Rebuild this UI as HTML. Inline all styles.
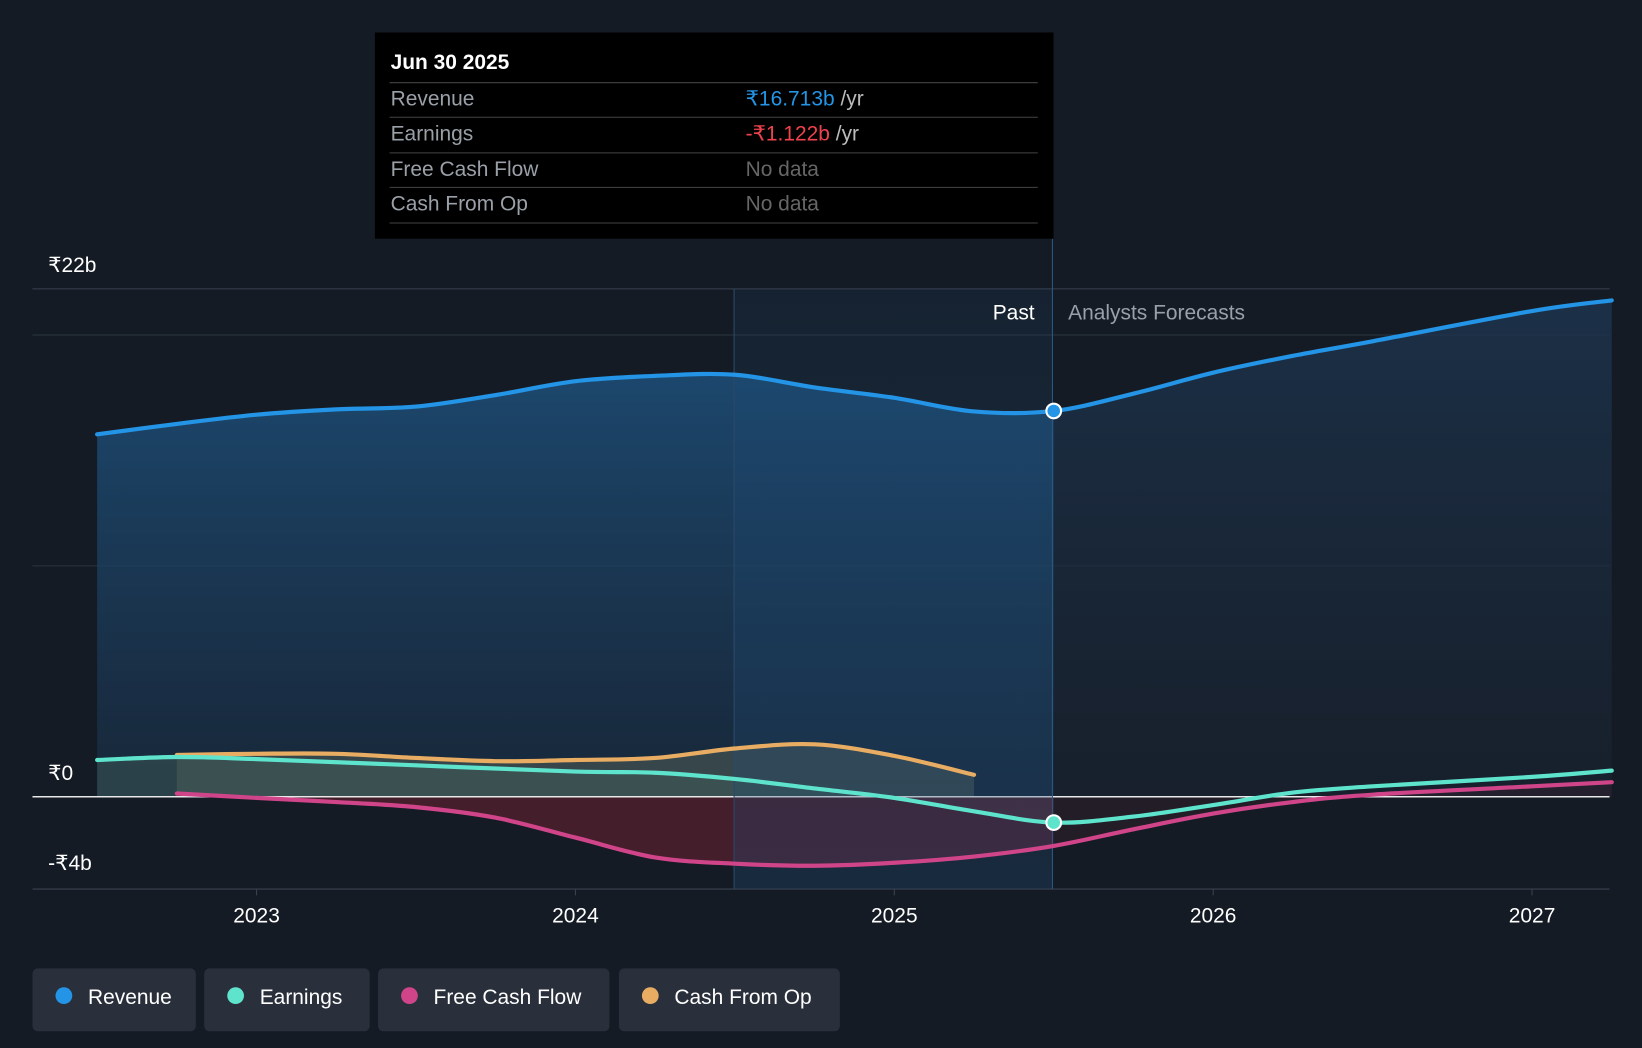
<!DOCTYPE html>
<html><head><meta charset="utf-8"><style>
html,body{margin:0;padding:0;background:#151b24;}
svg{display:block;font-family:"Liberation Sans","Noto Sans CJK SC",sans-serif;}
</style></head><body>
<svg id="chart" width="1642" height="1048" viewBox="0 0 1568 1001" preserveAspectRatio="none" xmlns="http://www.w3.org/2000/svg">
<defs>
<linearGradient id="revPast" x1="0" y1="0" x2="0" y2="1"><stop offset="0" stop-color="#1d4f7a" stop-opacity="0.85"/><stop offset="1" stop-color="#1a3048" stop-opacity="0.6"/></linearGradient>
<linearGradient id="revFut" x1="0" y1="0" x2="0" y2="1"><stop offset="0" stop-color="#1d3550" stop-opacity="0.8"/><stop offset="1" stop-color="#192534" stop-opacity="0.5"/></linearGradient>
<linearGradient id="hl" x1="0" y1="0" x2="0" y2="1"><stop offset="0" stop-color="#1e4c78" stop-opacity="0.25"/><stop offset="1" stop-color="#1e4c78" stop-opacity="0.5"/></linearGradient>
</defs>
<rect width="1568" height="1001" fill="#151b24"/>
<g id="grid"></g>
<g id="areas"></g>
<rect x="701" y="276" width="304" height="573" fill="url(#hl)" opacity="0.6"/>
<line x1="701" y1="276" x2="701" y2="849" stroke="#2a4a6a" stroke-width="1"/>
<line x1="1005" y1="228" x2="1005" y2="849" stroke="#2b5a85" stroke-width="1"/>
<g id="lines"></g>
<text x="988" y="305" fill="#fff" font-size="20" text-anchor="end">Past</text>
<text x="1020" y="305" fill="#9aa0a8" font-size="20">Analysts Forecasts</text>
<g>
<rect x="358" y="31" width="648" height="197" fill="#000"/>
<text x="373" y="66" fill="#fff" font-size="20" font-weight="bold">Jun 30 2025</text>
<line x1="372" y1="79" x2="991" y2="79" stroke="#444"/>
<text x="373" y="101" fill="#9aa0a8" font-size="20">Revenue</text>
<text x="712" y="101" font-size="20" fill="#2394e6">₹16.713b <tspan fill="#bbb">/yr</tspan></text>
<line x1="372" y1="112" x2="991" y2="112" stroke="#444"/>
<text x="373" y="134" fill="#9aa0a8" font-size="20">Earnings</text>
<text x="712" y="134" font-size="20" fill="#f0424c">-₹1.122b <tspan fill="#bbb">/yr</tspan></text>
<line x1="372" y1="146" x2="991" y2="146" stroke="#444"/>
<text x="373" y="168" fill="#9aa0a8" font-size="20">Free Cash Flow</text>
<text x="712" y="168" fill="#666" font-size="20">No data</text>
<line x1="372" y1="179" x2="991" y2="179" stroke="#444"/>
<text x="373" y="201" fill="#9aa0a8" font-size="20">Cash From Op</text>
<text x="712" y="201" fill="#666" font-size="20">No data</text>
<line x1="372" y1="213" x2="991" y2="213" stroke="#444"/>
</g>
<g id="axes"></g>
<g id="legend"></g>
</svg>
<script>
const years=[2022.5,2022.75,2023,2023.25,2023.5,2023.75,2024,2024.25,2024.5,2024.75,2025,2025.25,2025.5,2025.75,2026,2026.25,2026.5,2027,2027.25];
const revenue=[15.7,16.15,16.55,16.78,16.9,17.4,18.0,18.23,18.28,17.73,17.28,16.69,16.71,17.46,18.37,19.1,19.73,21.04,21.5];
const earnYears=[2022.5,2022.75,2023,2023.5,2024,2024.25,2024.5,2024.75,2025,2025.25,2025.5,2025.75,2026,2026.25,2026.5,2027,2027.25];
const earnings=[1.59,1.72,1.63,1.36,1.09,1.04,0.77,0.36,-0.05,-0.63,-1.12,-0.86,-0.36,0.18,0.45,0.86,1.13];
const fcfYears=[2022.75,2023,2023.25,2023.5,2023.75,2024,2024.25,2024.5,2024.75,2025,2025.25,2025.5,2025.75,2026,2026.25,2026.5,2027,2027.25];
const fcf=[0.14,-0.05,-0.23,-0.45,-0.91,-1.77,-2.63,-2.9,-2.99,-2.86,-2.59,-2.13,-1.41,-0.73,-0.23,0.09,0.45,0.63];
const cfoYears=[2022.75,2023,2023.25,2023.5,2023.75,2024,2024.25,2024.5,2024.75,2025,2025.25];
const cfo=[1.81,1.86,1.86,1.68,1.54,1.59,1.68,2.09,2.27,1.77,0.95];
const yTicks=[22,0,-4];
const yLabels=["₹22b","₹0","-₹4b"];
const xTicks=[2023,2024,2025,2026,2027];
const NS="http://www.w3.org/2000/svg";
const X=v=>245+(v-2023)*304.5;
const Y=v=>761-v*22.05;
function path(xs,ys){
  const p=xs.map((x,i)=>[X(x),Y(ys[i])]);
  let d="M"+p[0][0]+","+p[0][1];
  for(let i=0;i<p.length-1;i++){
    const p0=p[i-1]||p[i],p1=p[i],p2=p[i+1],p3=p[i+2]||p2;
    const c1=[p1[0]+(p2[0]-p0[0])/6,p1[1]+(p2[1]-p0[1])/6];
    const c2=[p2[0]-(p3[0]-p1[0])/6,p2[1]-(p3[1]-p1[1])/6];
    d+=` C${c1[0]},${c1[1]} ${c2[0]},${c2[1]} ${p2[0]},${p2[1]}`;
  }
  return d;
}
function el(tag,attrs,parent){const e=document.createElementNS(NS,tag);for(const k in attrs)e.setAttribute(k,attrs[k]);document.getElementById(parent).appendChild(e);return e;}
// grid
[22,20,10].forEach(v=>{const g=el('line',{x1:31,x2:1537,y1:Y(v),y2:Y(v),stroke:v==22?'#3a4250':'#2c3440','stroke-width':1},'grid');

});
const bl=el('line',{x1:31,x2:1537,y1:Y(-4),y2:Y(-4),stroke:'#3a4250'},'grid');


// areas
function area(xs,ys,fill,name,op){
  const d=path(xs,ys)+` L${X(xs[xs.length-1])},${Y(0)} L${X(xs[0])},${Y(0)} Z`;
  const a=el('path',{d:d,fill:fill,opacity:op},'areas');
  
  
}
const pi=years.indexOf(2025.5);
area(years.slice(pi),revenue.slice(pi),'url(#revFut)','revenue-area-forecast',1);
area(years.slice(0,pi+1),revenue.slice(0,pi+1),'url(#revPast)','revenue-area-past',1);
area(cfoYears,cfo,'#4b5a55','cfo-area',0.6);
area(earnYears.slice(0,11),earnings.slice(0,11),'#3d5a58','earnings-area',0.5);
area(fcfYears.slice(0,12),fcf.slice(0,12),'#5a2030','fcf-area',0.7);
area(fcfYears.slice(11),fcf.slice(11),'#3a2030','fcf-area-forecast',0.4);
const zl=el('line',{x1:31,x2:1537,y1:Y(0),y2:Y(0),stroke:'#e8e8e8','stroke-width':1.5},'areas');


// lines
function line(xs,ys,color,name){const l=el('path',{d:path(xs,ys),fill:'none',stroke:color,'stroke-width':4,'stroke-linecap':'round'},'lines');

}
line(fcfYears,fcf,'#d0458a','fcf-line');
line(cfoYears,cfo,'#e8ad62','cfo-line');
line(earnYears,earnings,'#5ee3cc','earnings-line');
line(years,revenue,'#2394e6','revenue-line');
const m1=el('circle',{cx:X(2025.5),cy:Y(revenue[pi]),r:7,fill:'#2394e6',stroke:'#fff','stroke-width':2},'lines');


const m2=el('circle',{cx:X(2025.5),cy:Y(earnings[earnYears.indexOf(2025.5)]),r:7,fill:'#5ee3cc',stroke:'#fff','stroke-width':2},'lines');


// axes
yTicks.forEach((v,i)=>{const t=el('text',{x:46,y:Y(v)-16+(v==-4?-2:0)+(v==0?0:0),fill:'#fff','font-size':20},'axes');t.textContent=yLabels[i];

});
xTicks.forEach(v=>{const tk=el('line',{x1:X(v),x2:X(v),y1:Y(-4),y2:Y(-4)+6,stroke:'#3a4250'},'axes');


const t=el('text',{x:X(v),y:881,fill:'#fff','font-size':20,'text-anchor':'middle'},'axes');t.textContent=v;

});
// legend
const leg=[["Revenue","#2394e6",31,156],["Earnings","#5ee3cc",195,158],["Free Cash Flow","#d0458a",361,221],["Cash From Op","#e8ad62",591,211]];
leg.forEach(([n,c,x,w])=>{
  const g=el('g',{},'legend');
  
  
  const r=document.createElementNS(NS,'rect');r.setAttribute('x',x);r.setAttribute('y',925);r.setAttribute('width',w);r.setAttribute('height',60);r.setAttribute('rx',5);r.setAttribute('fill','#2a303b');g.appendChild(r);
  const c1=document.createElementNS(NS,'circle');c1.setAttribute('cx',x+30);c1.setAttribute('cy',951);c1.setAttribute('r',8);c1.setAttribute('fill',c);g.appendChild(c1);
  const t=document.createElementNS(NS,'text');t.setAttribute('x',x+53);t.setAttribute('y',959);t.setAttribute('fill','#fff');t.setAttribute('font-size',20);t.textContent=n;g.appendChild(t);
});
</script>
</body></html>
